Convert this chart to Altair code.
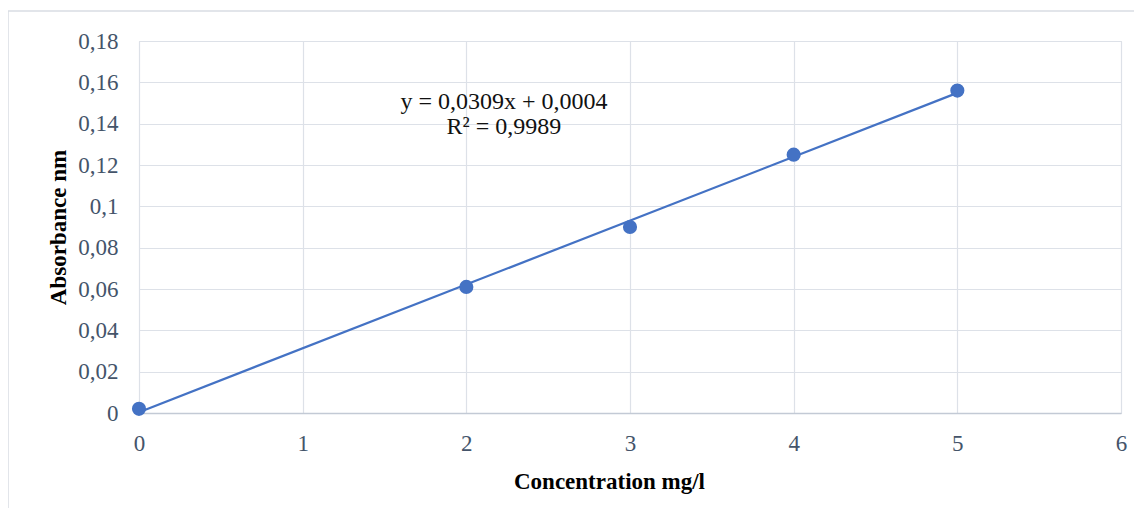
import altair as alt
import pandas as pd

# Data
concentration = [0, 2, 3, 4, 5]
absorbance = [0.002, 0.061, 0.090, 0.125, 0.156]

# Trendline (as printed on the chart)
slope = 0.0309
intercept = 0.0004
trend_x = [0, 5]

eq_lines = ["y = 0,0309x + 0,0004", "R² = 0,9989"]
eq_x = [2.23, 2.23]
eq_y = [0.1505, 0.1385]

x_ticks = [0, 1, 2, 3, 4, 5, 6]
y_ticks = [0, 0.02, 0.04, 0.06, 0.08, 0.10, 0.12, 0.14, 0.16, 0.18]

FONT = "Liberation Serif"
BLUE = "#4472c4"

pts = pd.DataFrame({"x": concentration, "y": absorbance})
trend = pd.DataFrame({"x": trend_x, "y": [slope * v + intercept for v in trend_x]})
eq = pd.DataFrame({"x": eq_x, "y": eq_y, "t": eq_lines})

comma = "replace(format(datum.value, '~g'), '.', ',')"

xscale = alt.Scale(domain=[0, 6], nice=False, zero=False)
yscale = alt.Scale(domain=[0, 0.18], nice=False)

xaxis = alt.Axis(
    title="Concentration mg/l", values=x_ticks, labelExpr=comma,
    grid=True, gridColor="#dde1e8", gridWidth=1.2,
    domain=True, domainColor="#c3cad5", domainWidth=1.5,
    ticks=False, labelPadding=19, labelFont=FONT, labelFontSize=23, labelFlush=False,
    labelColor="#44546a", titleFont=FONT, titleFontSize=23, titleFontWeight="bold",
    titleColor="#000000", titleX=470, titleY=68, titleBaseline="middle", titleAnchor="middle",
)
yaxis = alt.Axis(
    title="Absorbance nm", values=y_ticks, labelExpr=comma,
    grid=True, gridColor="#dde1e8", gridWidth=1.2,
    domain=False, ticks=False, labelPadding=21, labelFont=FONT, labelFontSize=23,
    labelFlush=False,
    labelColor="#44546a", titleFont=FONT, titleFontSize=23, titleFontWeight="bold",
    titleColor="#000000", titleX=-81, titleY=186, titleBaseline="middle", titleAngle=270,
)

frame = alt.Chart(pd.DataFrame({"a": [0]})).mark_rect(
    fill=None, stroke="#d9dde3", strokeWidth=1.5
).encode(
    x=alt.value(-131), x2=alt.value(1020), y=alt.value(-30), y2=alt.value(480)
)

line = alt.Chart(trend).mark_line(color=BLUE, strokeWidth=2.2).encode(
    x=alt.X("x:Q", scale=xscale, axis=xaxis),
    y=alt.Y("y:Q", scale=yscale, axis=yaxis),
)

points = alt.Chart(pts).mark_circle(color=BLUE, size=200, opacity=1).encode(
    x=alt.X("x:Q", scale=xscale),
    y=alt.Y("y:Q", scale=yscale),
)

text = alt.Chart(eq).mark_text(
    font=FONT, fontSize=24, color="#111111", align="center", baseline="middle"
).encode(
    x=alt.X("x:Q", scale=xscale),
    y=alt.Y("y:Q", scale=yscale),
    text="t:N",
)

chart = alt.layer(frame, line, points, text).properties(
    width=982, height=372,
    padding={"left": 131, "top": 33, "right": 13, "bottom": 95},
    autosize="none",
).configure_view(stroke=None).configure(background="white")

chart.save("out.html", embed_options={"renderer": "svg", "actions": False})
